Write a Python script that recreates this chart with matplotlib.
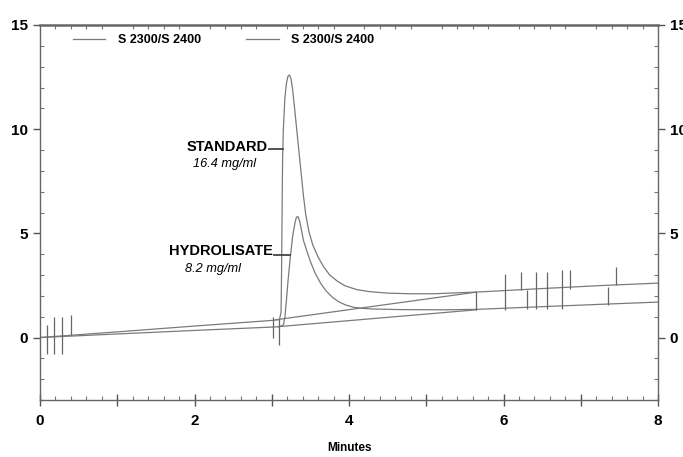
import matplotlib
matplotlib.use('Agg')
import matplotlib.pyplot as plt
from matplotlib.ticker import MultipleLocator, FuncFormatter

plt.rcParams['font.family'] = ['Liberation Sans', 'DejaVu Sans']

# standard trace (16.4 mg/ml)
std_t = [0, 1, 2, 3.0, 3.1, 3.12, 3.125, 3.13, 3.135, 3.14, 3.15, 3.17, 3.19, 3.21,
         3.23, 3.25, 3.27, 3.29, 3.32, 3.35, 3.38, 3.41, 3.44, 3.48, 3.53, 3.6, 3.67,
         3.75, 3.85, 3.95, 4.1, 4.27, 4.5, 4.8, 5.1, 5.43, 5.65, 6.5, 7.3, 8.0]
std_v = [0, 0.27, 0.55, 0.82, 0.86, 1.2, 2.5, 4.5, 6.6, 8.5, 10.0, 11.5, 12.2, 12.55,
         12.6, 12.4, 11.9, 11.2, 10.1, 9.0, 7.9, 6.8, 5.9, 5.1, 4.45, 3.86, 3.4,
         3.0, 2.7, 2.48, 2.3, 2.2, 2.13, 2.1, 2.1, 2.15, 2.18, 2.35, 2.5, 2.61]

# hydrolisate trace (8.2 mg/ml)
hyd_t = [0, 1, 2, 3.0, 3.1, 3.15, 3.17, 3.19, 3.21, 3.24, 3.27, 3.3, 3.32, 3.34, 3.36,
         3.38, 3.41, 3.45, 3.5, 3.56, 3.63, 3.7, 3.78, 3.86, 3.95, 4.05, 4.14, 4.3,
         4.66, 5.2, 5.65, 6.5, 7.3, 8.0]
hyd_v = [0, 0.17, 0.34, 0.5, 0.52, 0.6, 0.98, 1.8, 2.7, 3.86, 4.85, 5.5, 5.78, 5.8,
         5.6, 5.25, 4.66, 4.2, 3.65, 3.1, 2.62, 2.25, 1.95, 1.73, 1.57, 1.46, 1.41,
         1.37, 1.34, 1.33, 1.35, 1.48, 1.6, 1.70]

# integration baselines
std_base_t = [3.05, 5.65]
std_base_v = [0.85, 2.18]
hyd_base_t = [3.08, 5.65]
hyd_base_v = [0.52, 1.33]

# event marks (time, bottom, top)
mark_t = [0.09, 0.18, 0.29, 0.40, 3.01, 3.10, 5.65, 6.02, 6.22, 6.31, 6.42, 6.56,
          6.76, 6.86, 7.35, 7.46]
mark_lo = [-0.77, -0.77, -0.77, 0.1, 0.0, -0.38, 1.30, 1.30, 2.26, 1.38, 1.38, 1.38,
           1.38, 2.34, 1.54, 2.50]
mark_hi = [0.6, 1.0, 1.0, 1.06, 0.98, 0.9, 2.18, 3.06, 3.14, 2.26, 3.14, 3.14,
           3.22, 3.22, 2.42, 3.38]

series_names = ['S 2300/S 2400', 'S 2300/S 2400']

fig = plt.figure(figsize=(6.83, 4.57), dpi=100)
ax = fig.add_axes([0.0586, 0.1247, 0.9048, 0.8206])

lc = '#7a7a7a'
ax.plot(std_t, std_v, color=lc, lw=0.9, label=series_names[0])
ax.plot(hyd_t, hyd_v, color=lc, lw=0.9, label=series_names[1])
ax.plot(std_base_t, std_base_v, color=lc, lw=0.9)
ax.plot(hyd_base_t, hyd_base_v, color=lc, lw=0.9)
ax.vlines(mark_t, mark_lo, mark_hi, color='#666666', lw=0.9)

# peak labels
ax.plot([2.97, 3.14], [9.05, 9.05], color='#444444', lw=1.3)
ax.text(2.95, 9.15, 'STANDARD', ha='right', va='center', fontsize=10.5, fontweight='bold')
ax.text(2.80, 8.35, '16.4 mg/ml', ha='right', va='center', fontsize=9.2, style='italic')
ax.plot([3.03, 3.24], [3.94, 3.94], color='#444444', lw=1.3)
ax.text(3.01, 4.15, 'HYDROLISATE', ha='right', va='center', fontsize=10.5, fontweight='bold')
ax.text(2.60, 3.3, '8.2 mg/ml', ha='right', va='center', fontsize=9.2, style='italic')

ax.set_xlim(0, 8)
ax.set_ylim(-3, 15)

ax.xaxis.set_major_locator(MultipleLocator(1))
ax.xaxis.set_minor_locator(MultipleLocator(0.2))
ax.xaxis.set_major_formatter(FuncFormatter(lambda v, p: '%d' % v if int(round(v)) % 2 == 0 else ''))
ax.yaxis.set_major_locator(MultipleLocator(5))
ax.yaxis.set_minor_locator(MultipleLocator(1))

ax.tick_params(axis='both', which='major', labelsize=11, width=1, length=5, colors='#555555',
               labelcolor='black')
ax.tick_params(axis='both', which='minor', direction='in', length=3, width=0.8, colors='#777777')
ax.tick_params(axis='y', which='both', right=True, labelright=True)
ax.tick_params(axis='x', which='minor', top=True)
ax.tick_params(axis='x', which='major', direction='inout', length=8, pad=6)
for lab in ax.get_xticklabels() + ax.get_yticklabels():
    lab.set_fontweight('bold')
for t in ax.yaxis.get_major_ticks():
    t.label2.set_fontweight('bold')

for s in ax.spines.values():
    s.set_color('#666666')
    s.set_linewidth(1.0)
ax.spines['top'].set_linewidth(1.8)

ax.set_xlabel('Minutes', fontsize=8.5, fontweight='bold', labelpad=10)

ax.legend(loc='upper left', bbox_to_anchor=(0.035, 1.005), ncol=2, frameon=False,
          handlelength=2.6, handletextpad=1.0, columnspacing=3.6,
          prop={'weight': 'bold', 'size': 9})

fig.savefig('out.png', dpi=100)
